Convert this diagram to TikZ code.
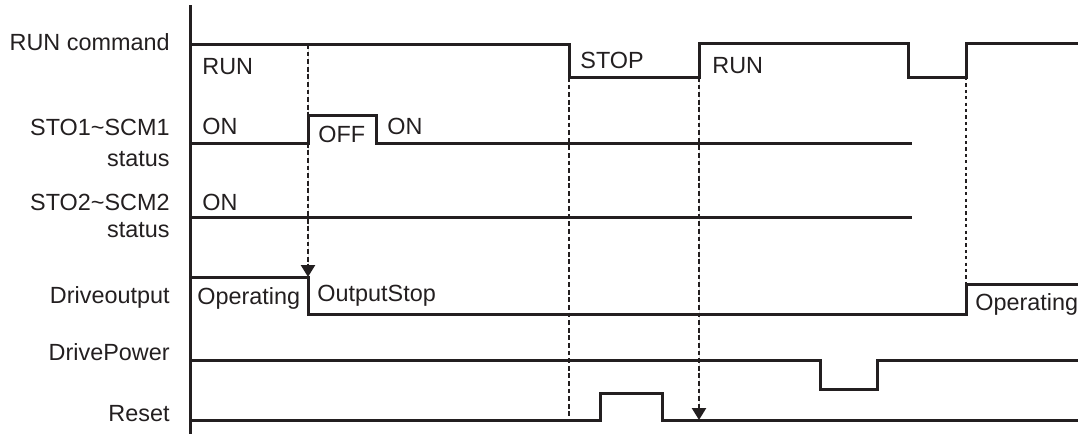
\documentclass[tikz,border=0pt]{standalone}
\usepackage{fontspec}
\setmainfont{Liberation Sans}
\usetikzlibrary{arrows.meta}
\definecolor{ink}{RGB}{35,31,32}
\begin{document}
\begin{tikzpicture}[x=0.5pt,y=-0.5pt,
  sig/.style={line width=1.5pt, draw=ink, line join=miter},
  axisline/.style={line width=1.5pt, draw=ink},
  guide/.style={line width=1.2pt, draw=ink, dash pattern=on 2.4pt off 1.4pt},
  fineguide/.style={line width=1.2pt, draw=ink, dash pattern=on 1.6pt off 1.6pt},
  lbl/.style={inner sep=0pt, anchor=base east, font=\fontsize{11.7}{14}\selectfont, text=ink},
  st/.style={inner sep=0pt, anchor=base west, font=\fontsize{11.7}{14}\selectfont, text=ink},
  tipped/.style={-{Triangle[length=6pt,width=7pt]}, fill=ink}]
\useasboundingbox (0,0) rectangle (1081,434);
% axis
\coordinate (axtop) at (190,5);
\coordinate (axbot) at (190,434);
\draw[axisline] (axtop) -- (axbot);
% left labels
\node[lbl] (lrun) at (170,50) {RUN command};
\node[lbl] (lsto1) at (170,135) {STO1\textasciitilde SCM1};
\node[lbl] (lsto1s) at (170,166) {status};
\node[lbl] (lsto2) at (170,210) {STO2\textasciitilde SCM2};
\node[lbl] (lsto2s) at (170,237) {status};
\node[lbl] (ldrv) at (170,303) {Driveoutput};
\node[lbl] (lpow) at (170,360) {DrivePower};
\node[lbl] (lrst) at (170,421) {Reset};
% key coordinates
\coordinate (runA) at (308,44);
\coordinate (runB) at (569,77);
\coordinate (runC) at (699,77);
\coordinate (runD) at (966,77);
\coordinate (drvA) at (308,277);
\coordinate (rstB) at (569,420);
\coordinate (rstC) at (699,420);
\coordinate (drvD) at (966,284);
% signals
\draw[sig] (190,44) -- (569,44) -- (runB) -- (runC) -- (699,43) -- (908,43) -- (908,77) -- (runD) -- (966,43) -- (1078,43);
\draw[sig] (190,143) -- (308,143) -- (308,115) -- (376,115) -- (376,143) -- (912,143);
\draw[sig] (190,217) -- (912,217);
\draw[sig] (190,277) -- (drvA) -- (308,314) -- (966,314) -- (drvD) -- (1078,284);
\draw[sig] (190,360) -- (820,360) -- (820,389) -- (877,389) -- (877,360) -- (1078,360);
\draw[sig] (190,420) -- (600,420) -- (600,393) -- (662,393) -- (662,420) -- (1078,420);
% guides
\draw[guide, tipped] (runA) -- (drvA);
\draw[guide] (runB) -- (rstB);
\draw[guide, tipped] (runC) -- (rstC);
\draw[fineguide] (runD) -- (drvD);
% state labels
\node[st] (trun1) at (202,74) {RUN};
\node[st] (tstop) at (580,68) {STOP};
\node[st] (trun2) at (712,73) {RUN};
\node[st] (ton1) at (202,134) {ON};
\node[st] (toff) at (318,142) {OFF};
\node[st] (ton2) at (387,134) {ON};
\node[st] (ton3) at (202,210) {ON};
\node[st] (top1) at (197,304) {Operating};
\node[st] (tos) at (317,301) {OutputStop};
\node[st] (top2) at (975,310) {Operating};
\end{tikzpicture}
\end{document}
